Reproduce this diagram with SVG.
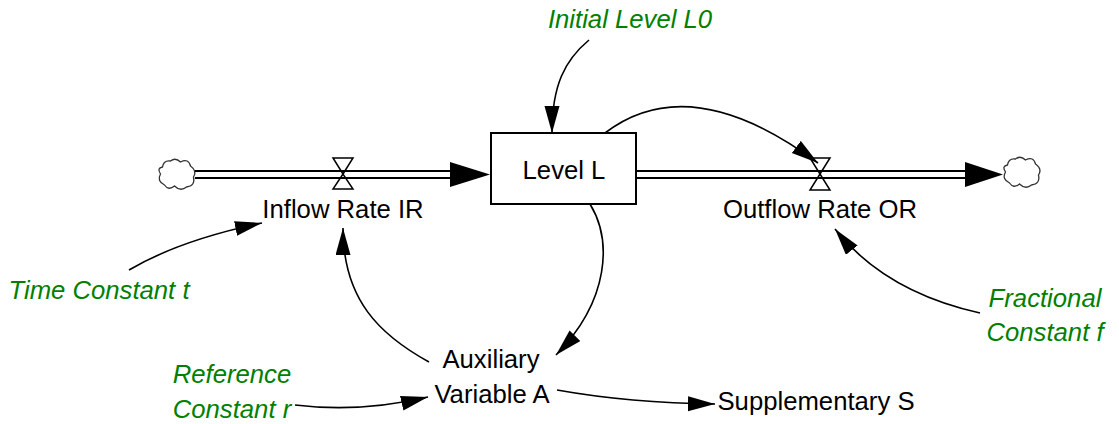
<svg xmlns="http://www.w3.org/2000/svg" width="1119" height="424" viewBox="0 0 1119 424">
<defs>
<style>
.lbl{font-family:"Liberation Sans",Arial,sans-serif;font-size:25.7px;fill:#000;text-anchor:middle}
.const{font-family:"Liberation Sans",Arial,sans-serif;font-size:25.7px;font-style:italic;fill:#008000;text-anchor:middle}
.con{fill:none;stroke:#000;stroke-width:1.6;marker-end:url(#arr)}
.pipe{stroke:#000;stroke-width:2;fill:none}
.valve{fill:#fff;stroke:#000;stroke-width:1.5;stroke-linejoin:miter}
.cloud{fill:#fff;stroke:#333;stroke-width:1.3}
</style>
<marker id="arr" markerUnits="userSpaceOnUse" markerWidth="28" markerHeight="16" refX="27" refY="7.5" orient="auto">
<path d="M0,0 L27,7.5 L0,15 z" fill="#000"/>
</marker>
<path id="cloudShape" d="M-14,-7 Q-13,-14 -6,-13 Q-1,-17 4,-12 Q12,-16 14,-8 Q21,-3 17,3 Q19,12 10,13 Q4,18 -2,12 Q-8,17 -12,11 Q-20,7 -16,0 Q-20,-6 -14,-7 Z"/>
</defs>
<rect width="1119" height="424" fill="#fff"/>

<g id="cloud-source"><use href="#cloudShape" class="cloud" transform="translate(176.5,174)"/></g>
<g id="cloud-sink"><use href="#cloudShape" class="cloud" transform="translate(1021.5,172)"/></g>

<g id="flow-inflow">
<path class="valve" d="M333,158 L353,158 L343,174 Z M343,174 L333,189 L353,189 Z"/>
<line class="pipe" x1="195" y1="171" x2="452" y2="171"/>
<line class="pipe" x1="195" y1="178" x2="452" y2="178"/>
<polygon points="450,162 490,174.5 450,187" fill="#000"/>
<text class="lbl" x="343" y="218">Inflow Rate IR</text>
</g>

<g id="flow-outflow">
<path class="valve" d="M810,158 L830,158 L820,174 Z M820,174 L810,190 L830,190 Z"/>
<line class="pipe" x1="636" y1="171" x2="967" y2="171"/>
<line class="pipe" x1="636" y1="178" x2="967" y2="178"/>
<polygon points="965,162 1003,174.5 965,187" fill="#000"/>
<text class="lbl" x="820" y="218">Outflow Rate OR</text>
</g>

<g id="level">
<rect x="491" y="133" width="145" height="71" fill="#fff" stroke="#000" stroke-width="2"/>
<text class="lbl" x="564" y="179">Level L</text>
</g>

<g id="initial"><text class="const" x="630" y="28">Initial Level L0</text></g>
<g id="time"><text class="const" x="99" y="299">Time Constant t</text></g>
<g id="reference"><text class="const" x="232" y="383">Reference</text><text class="const" x="232" y="418">Constant r</text></g>
<g id="fractional"><text class="const" x="1045" y="307">Fractional</text><text class="const" x="1045" y="341">Constant f</text></g>
<g id="auxiliary"><text class="lbl" x="491" y="368">Auxiliary</text><text class="lbl" x="492" y="403">Variable A</text></g>
<g id="supplementary"><text class="lbl" x="816" y="410">Supplementary S</text></g>

<g id="connectors">
<path class="con" d="M589,40 C565,60 552,85 552,133"/>
<path class="con" d="M605,133 Q690,68 818,163"/>
<path class="con" d="M590,204 C612,240 610,300 556,355"/>
<path class="con" d="M429,362 C380,335 343,300 343,228"/>
<path class="con" d="M129,270 Q180,240 262,223"/>
<path class="con" d="M295,405 Q360,413 428,397"/>
<path class="con" d="M557,390 Q630,403 715,404"/>
<path class="con" d="M980,313 Q885,292 835,229"/>
</g>
</svg>
